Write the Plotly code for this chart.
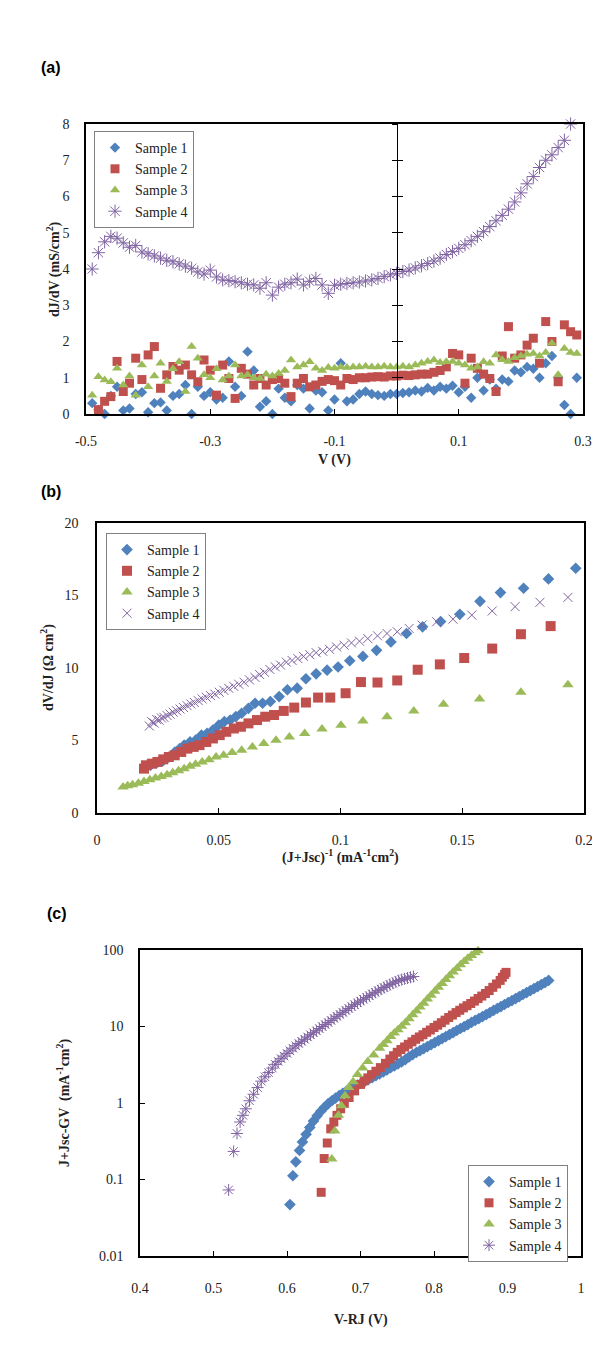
import plotly.graph_objects as go

# ---------------- data : panel (a) ----------------
V_A = [-0.49, -0.48, -0.47, -0.46, -0.45, -0.44, -0.43, -0.42, -0.41, -0.40,
       -0.39, -0.38, -0.37, -0.36, -0.35, -0.34, -0.33, -0.32, -0.31, -0.30,
       -0.29, -0.28, -0.27, -0.26, -0.25, -0.24, -0.23, -0.22, -0.21, -0.20,
       -0.19, -0.18, -0.17, -0.16, -0.15, -0.14, -0.13, -0.12, -0.11, -0.10,
       -0.09, -0.08, -0.07, -0.06, -0.05, -0.04, -0.03, -0.02, -0.01, 0.00,
       0.01, 0.02, 0.03, 0.04, 0.05, 0.06, 0.07, 0.08, 0.09, 0.10,
       0.11, 0.12, 0.13, 0.14, 0.15, 0.16, 0.17, 0.18, 0.19, 0.20,
       0.21, 0.22, 0.23, 0.24, 0.25, 0.26, 0.27, 0.28, 0.29]
S1_A = [0.3, 0.12, 0.0, 0.5, 0.75, 0.1, 0.15, 0.55, 0.6, 0.05,
        0.3, 0.32, 0.1, 0.5, 0.55, 0.8, 0.0, 0.75, 0.5, 0.6,
        0.4, 0.45, 1.45, 0.75, 0.5, 1.72, 1.2, 0.2, 0.35, 0.0,
        0.7, 0.45, 0.35, 0.8, 0.7, 0.15, 0.65, 0.6, 0.1, 0.4,
        1.4, 0.35, 0.4, 0.55, 0.62, 0.55, 0.52, 0.5, 0.55, 0.55,
        0.58, 0.6, 0.65, 0.62, 0.72, 0.65, 0.75, 0.7, 0.78, 0.6,
        0.75, 0.45, 1.0, 0.65, 0.95, 0.7, 0.95, 0.9, 1.2, 1.15,
        1.3, 1.25, 1.0, 1.4, 1.6, 1.0, 0.25, 0.0, 1.0]
S2_A = [None, 0.12, 0.35, 0.48, 1.45, 0.62, 0.85, 1.54, 0.95, 1.63,
        1.86, 0.71, 1.08, 1.31, 1.21, 1.35, 1.08, 0.89, 1.49, 1.21,
        0.52, 1.35, 0.98, 0.43, 1.26, 1.1, 0.8, 0.98, 0.8, 0.95,
        0.98, 0.85, 0.48, 0.85, 0.98, 0.75, 0.8, 0.9, 0.95, 0.92,
        0.8, 0.98, 0.95, 1.0, 1.0, 1.02, 1.03, 1.02, 1.05, 1.05,
        1.07, 1.06, 1.08, 1.1, 1.1, 1.15, 1.2, 1.3, 1.67, 1.63,
        0.85, 1.54, 1.26, 1.1, 0.98, 0.62, 1.6, 2.41, 1.54, 1.63,
        1.9, 2.09, 1.4, 2.55, 2.0, 0.89, 2.46, 2.27, 2.18]
S3_A = [0.52, 1.03, 0.94, 0.89, 1.26, 0.8, 1.05, 0.52, 1.35, 0.75,
        1.05, 1.4, 0.9, 1.25, 1.44, 0.62, 1.86, 1.54, 1.08, 1.0,
        1.25, 0.94, 1.05, 1.35, 1.05, 1.08, 1.0, 0.98, 1.1, 1.05,
        1.12, 1.2, 1.49, 1.3, 1.35, 1.44, 1.26, 1.2, 1.28, 1.26,
        1.3, 1.28, 1.3, 1.3, 1.32, 1.3, 1.3, 1.32, 1.3, 1.3,
        1.32, 1.3, 1.35, 1.4, 1.45, 1.49, 1.42, 1.44, 1.45, 1.4,
        1.35, 1.26, 1.3, 1.44, 1.4, 1.63, 1.5, 1.45, 1.55, 1.6,
        1.65, 1.67, 1.6, 1.7, 1.95, 1.08, 1.81, 1.7, 1.67]
S4_A = [4.0, 4.45, 4.75, 4.9, 4.85, 4.72, 4.6, 4.65, 4.47, 4.42,
        4.36, 4.3, 4.24, 4.2, 4.14, 4.08, 4.02, 3.92, 3.86, 3.97,
        3.78, 3.7, 3.68, 3.65, 3.62, 3.58, 3.56, 3.47, 3.62, 3.28,
        3.5, 3.58, 3.62, 3.72, 3.56, 3.66, 3.74, 3.56, 3.33, 3.55,
        3.58, 3.6, 3.62, 3.64, 3.67, 3.7, 3.74, 3.79, 3.84, 3.88,
        3.93, 3.97, 4.03, 4.09, 4.15, 4.22, 4.3, 4.4, 4.48, 4.57,
        4.67, 4.78, 4.9, 5.03, 5.17, 5.33, 5.48, 5.65, 5.85, 6.1,
        6.35, 6.55, 6.8, 7.0, 7.15, 7.35, 7.55, 8.0, None]
TICKS_XA = [-0.5, -0.3, -0.1, 0.1, 0.3]
TICKTEXT_XA = ["-0.5", "-0.3", "-0.1", "0.1", "0.3"]
TICKS_YA = [0, 1, 2, 3, 4, 5, 6, 7, 8]

# ---------------- data : panel (b) ----------------
X_B1 = [0.0220, 0.0245, 0.0270, 0.0295, 0.0320, 0.0340, 0.0358, 0.0382, 0.0405, 0.0429,
        0.0452, 0.0476, 0.0500, 0.0523, 0.0547, 0.0570, 0.0594, 0.0622, 0.0649, 0.0680,
        0.0712, 0.0748, 0.0782, 0.0822, 0.0858, 0.0900, 0.0945, 0.0990, 0.1038, 0.1092,
        0.1148, 0.1207, 0.1271, 0.1337, 0.1411, 0.1490, 0.1573, 0.1657, 0.1752, 0.1854, 0.1966]
Y_B1 = [3.3, 3.45, 3.6, 3.85, 4.2, 4.44, 4.68, 4.9, 5.02, 5.37,
        5.49, 5.72, 6.06, 6.3, 6.41, 6.64, 6.88, 7.22, 7.57, 7.57,
        7.69, 8.03, 8.5, 8.61, 9.26, 9.6, 9.85, 10.07, 10.5, 10.8,
        11.22, 11.8, 12.38, 12.84, 13.2, 13.7, 14.6, 15.2, 15.5, 16.14, 16.88]
X_B2 = [0.0193, 0.0201, 0.0225, 0.0248, 0.0272, 0.0295, 0.0319, 0.0346, 0.0371, 0.0397,
        0.0421, 0.0449, 0.0476, 0.0504, 0.0531, 0.0562, 0.0591, 0.0622, 0.0657, 0.0691,
        0.0727, 0.0767, 0.0810, 0.0858, 0.0908, 0.0958, 0.1021, 0.1084, 0.1152, 0.1233,
        0.1317, 0.1408, 0.1508, 0.1623, 0.1741, 0.1863]
Y_B2 = [3.06, 3.29, 3.4, 3.52, 3.7, 3.86, 3.98, 4.21, 4.44, 4.56,
        4.68, 4.9, 5.14, 5.37, 5.6, 5.83, 5.95, 6.18, 6.41, 6.64,
        6.76, 7.04, 7.27, 7.62, 7.96, 7.96, 8.26, 9.03, 9.0, 9.14,
        9.88, 10.25, 10.69, 11.34, 12.33, 12.89]
X_B3 = [0.0107, 0.0126, 0.0146, 0.0170, 0.0193, 0.0217, 0.0240, 0.0264, 0.0288, 0.0311,
        0.0335, 0.0358, 0.0382, 0.0405, 0.0432, 0.0460, 0.0489, 0.0520, 0.0555, 0.0594,
        0.0638, 0.0685, 0.0735, 0.0790, 0.0853, 0.0924, 0.1002, 0.1092, 0.1191, 0.1301,
        0.1423, 0.1571, 0.1741, 0.1934]
Y_B3 = [1.8, 1.88, 1.94, 2.06, 2.18, 2.29, 2.41, 2.52, 2.64, 2.78,
        2.92, 3.06, 3.22, 3.36, 3.52, 3.68, 3.86, 3.98, 4.17, 4.33,
        4.56, 4.79, 5.02, 5.25, 5.49, 5.79, 6.06, 6.34, 6.64, 7.04,
        7.5, 7.87, 8.33, 8.84]
X_B4 = [0.0215, 0.0225, 0.0235, 0.0245, 0.0255, 0.0265, 0.0275, 0.0288, 0.0300, 0.0313,
        0.0327, 0.0341, 0.0355, 0.0370, 0.0385, 0.0400, 0.0416, 0.0432, 0.0449, 0.0466,
        0.0484, 0.0502, 0.0521, 0.0541, 0.0561, 0.0582, 0.0604, 0.0626, 0.0649, 0.0668,
        0.0688, 0.0710, 0.0732, 0.0754, 0.0778, 0.0801, 0.0825, 0.0848, 0.0874, 0.0900,
        0.0927, 0.0955, 0.0984, 0.1015, 0.1045, 0.1078, 0.1112, 0.1152, 0.1191, 0.1233,
        0.1282, 0.1335, 0.1395, 0.1462, 0.1539, 0.1623, 0.1717, 0.1819, 0.1934]
Y_B4 = [6.0, 6.3, 6.2, 6.45, 6.4, 6.55, 6.6, 6.72, 6.82, 6.95,
        7.05, 7.17, 7.28, 7.4, 7.52, 7.62, 7.75, 7.86, 7.98, 8.1,
        8.2, 8.33, 8.46, 8.6, 8.74, 8.88, 9.02, 9.18, 9.35, 9.55,
        9.7, 9.9, 10.08, 10.2, 10.4, 10.52, 10.65, 10.8, 10.92, 11.06,
        11.15, 11.29, 11.45, 11.57, 11.73, 11.85, 12.03, 12.22, 12.38, 12.5,
        12.73, 12.96, 13.19, 13.37, 13.65, 13.93, 14.23, 14.53, 14.87]

# ---------------- data : panel (c) ----------------
X_C1 = [0.604, 0.608, 0.612, 0.617, 0.621, 0.626, 0.631, 0.636, 0.641, 0.646,
        0.651, 0.656, 0.661, 0.666, 0.671, 0.676, 0.681, 0.686, 0.691, 0.696,
        0.701, 0.706, 0.711, 0.716, 0.721, 0.726, 0.731, 0.736, 0.741, 0.746,
        0.751, 0.756, 0.761, 0.766, 0.771, 0.776, 0.781, 0.786, 0.791, 0.796,
        0.801, 0.806, 0.811, 0.816, 0.821, 0.826, 0.831, 0.836, 0.841, 0.846,
        0.851, 0.856, 0.861, 0.866, 0.871, 0.876, 0.881, 0.886, 0.891, 0.896,
        0.901, 0.906, 0.911, 0.916, 0.921, 0.926, 0.931, 0.936, 0.941, 0.946,
        0.951, 0.956]
Y_C1 = [0.047, 0.112, 0.17, 0.24, 0.31, 0.39, 0.48, 0.58, 0.68, 0.78,
        0.88, 0.98, 1.07, 1.16, 1.25, 1.34, 1.43, 1.52, 1.61, 1.71,
        1.81, 1.92, 2.03, 2.15, 2.28, 2.41, 2.55, 2.7, 2.9, 3.05,
        3.25, 3.45, 3.7, 4.0, 4.3, 4.57, 4.85, 5.15, 5.47, 5.81,
        6.17, 6.55, 6.96, 7.39, 7.85, 8.34, 8.86, 9.41, 9.99, 10.6,
        11.3, 12.0, 12.7, 13.5, 14.3, 15.2, 16.2, 17.2, 18.2, 19.4,
        20.6, 21.8, 23.2, 24.6, 26.2, 27.8, 29.5, 31.3, 33.3, 35.3,
        37.5, 40.0]
X_C2 = [0.6465, 0.6506, 0.6548, 0.6595, 0.6637, 0.668, 0.673, 0.678, 0.6845, 0.692,
        0.700, 0.705, 0.710, 0.715, 0.721, 0.727, 0.734, 0.740, 0.745, 0.750,
        0.755, 0.760, 0.765, 0.770, 0.775, 0.780, 0.785, 0.790, 0.795, 0.800,
        0.805, 0.810, 0.815, 0.820, 0.825, 0.830, 0.835, 0.840, 0.845, 0.850,
        0.855, 0.860, 0.865, 0.870, 0.875, 0.880, 0.885, 0.890, 0.893, 0.896, 0.898]
Y_C2 = [0.068, 0.188, 0.30, 0.46, 0.565, 0.69, 0.84, 0.99, 1.18, 1.44,
        1.75, 1.95, 2.13, 2.35, 2.6, 2.9, 3.3, 3.75, 4.15, 4.6,
        5.0, 5.4, 5.85, 6.3, 6.8, 7.3, 7.8, 8.4, 9.0, 9.7,
        10.4, 11.2, 12.1, 13.1, 14.1, 15.2, 16.3, 17.5, 18.7, 20.0,
        21.5, 23.2, 25.0, 27.0, 29.5, 32.5, 36.0, 40.0, 44.0, 48.0, 51.0]
X_C3 = [0.661, 0.665, 0.670, 0.674, 0.679, 0.684, 0.690, 0.696, 0.703, 0.710,
        0.718, 0.726, 0.731, 0.736, 0.741, 0.746, 0.751, 0.756, 0.761, 0.766,
        0.771, 0.776, 0.781, 0.786, 0.791, 0.796, 0.801, 0.806, 0.811, 0.816,
        0.821, 0.826, 0.831, 0.836, 0.841, 0.846, 0.851, 0.856, 0.860]
Y_C3 = [0.186, 0.43, 0.69, 0.92, 1.24, 1.59, 1.9, 2.35, 2.86, 3.5,
        4.25, 5.2, 5.8, 6.5, 7.4, 8.2, 9.1, 10.1, 11.2, 12.6,
        14.2, 16.0, 18.0, 20.2, 22.8, 25.7, 29.0, 32.5, 36.5, 41.0,
        46.0, 51.5, 57.5, 64.0, 71.0, 78.0, 85.0, 92.0, 98.0]
X_C4 = [0.5206, 0.5274, 0.532, 0.5362, 0.540, 0.544, 0.549, 0.5545, 0.560, 0.565,
        0.570, 0.575, 0.580, 0.584, 0.588, 0.592, 0.596, 0.600, 0.604, 0.608,
        0.612, 0.616, 0.620, 0.624, 0.628, 0.632, 0.636, 0.640, 0.644, 0.648,
        0.652, 0.656, 0.660, 0.664, 0.668, 0.672, 0.676, 0.680, 0.684, 0.688,
        0.692, 0.696, 0.700, 0.704, 0.708, 0.712, 0.716, 0.720, 0.724, 0.728,
        0.732, 0.736, 0.740, 0.744, 0.748, 0.752, 0.756, 0.760, 0.764, 0.768, 0.772]
Y_C4 = [0.073, 0.233, 0.40, 0.565, 0.69, 0.84, 1.07, 1.3, 1.59, 1.93,
        2.2, 2.5, 2.86, 3.2, 3.5, 3.8, 4.1, 4.45, 4.8, 5.2,
        5.6, 6.0, 6.4, 6.8, 7.3, 7.8, 8.3, 8.8, 9.4, 10.0,
        10.6, 11.3, 12.0, 12.8, 13.6, 14.4, 15.3, 16.2, 17.2, 18.2,
        19.3, 20.4, 21.5, 22.7, 24.0, 25.3, 26.6, 28.0, 29.4, 30.8,
        32.3, 33.8, 35.3, 36.8, 38.3, 39.8, 41.0, 42.0, 43.0, 44.0, 45.0]
TICKS_YC = [0.01, 0.1, 1, 10, 100]
TICKTEXT_YC = ["0.01", "0.1", "1", "10", "100"]

NAMES = ["Sample 1", "Sample 2", "Sample 3", "Sample 4"]

# ---------------- styling ----------------
W, H = 600, 1347
BLUE, RED, GREEN, PURPLE = "#4F81BD", "#C0504D", "#9BBB59", "#8064A2"
SERIF, SANS = "Liberation Serif, Times New Roman, serif", "Liberation Sans, Arial, sans-serif"
TXT = "#222222"


def fx(px):
    return px / W


def fy(py):
    return 1 - py / H


# frame pixel boxes (left, right, top, bottom)
BOX_A = (78, 575, 116, 406)
BOX_B = (89, 576, 515, 805)
BOX_C = (132, 573, 942, 1248)

fig = go.Figure()


def add(x, y, name, sym, color, size, xa, ya, leg, open_=False):
    marker = dict(symbol=sym, color=color, size=size)
    marker["line"] = dict(color=color, width=1) if open_ else dict(width=0)
    fig.add_trace(go.Scatter(x=x, y=y, mode="markers", name=name, marker=marker,
                             xaxis=xa, yaxis=ya, legend=leg, cliponaxis=False))


# panel (a)
add(V_A, S1_A, NAMES[0], "diamond", BLUE, 8, "x", "y", "legend")
add(V_A, S2_A, NAMES[1], "square", RED, 9, "x", "y", "legend")
add(V_A, S3_A, NAMES[2], "triangle-up", GREEN, 9, "x", "y", "legend")
add(V_A, S4_A, NAMES[3], "asterisk-open", PURPLE, 11, "x", "y", "legend", True)
# panel (b)
add(X_B1, Y_B1, NAMES[0], "diamond", BLUE, 9, "x2", "y2", "legend2")
add(X_B2, Y_B2, NAMES[1], "square", RED, 10, "x2", "y2", "legend2")
add(X_B3, Y_B3, NAMES[2], "triangle-up", GREEN, 10, "x2", "y2", "legend2")
add(X_B4, Y_B4, NAMES[3], "x-thin-open", PURPLE, 9, "x2", "y2", "legend2", True)
# panel (c)
add(X_C1, Y_C1, NAMES[0], "diamond", BLUE, 9, "x3", "y3", "legend3")
add(X_C2, Y_C2, NAMES[1], "square", RED, 9, "x3", "y3", "legend3")
add(X_C3, Y_C3, NAMES[2], "triangle-up", GREEN, 10, "x3", "y3", "legend3")
add(X_C4, Y_C4, NAMES[3], "asterisk-open", PURPLE, 10, "x3", "y3", "legend3", True)

# dummy traces for the centre axis (V = 0) of panel (a)
for ya in ("y4", "y5"):
    fig.add_trace(go.Scatter(x=[None], y=[None], xaxis="x", yaxis=ya, showlegend=False,
                             hoverinfo="skip", mode="markers"))

tickfont = dict(family=SERIF, size=14, color=TXT)
base = dict(showline=True, mirror=True, linecolor="black", linewidth=1.5, showgrid=False,
            zeroline=False, ticks="inside", ticklen=5, tickcolor="black", tickwidth=1,
            tickfont=tickfont, automargin=False)


def xdom(b):
    return [fx(b[0]), fx(b[1])]


def ydom(b):
    return [fy(b[3]), fy(b[2])]


pos_zero = fx(BOX_A[0]) + (0 - (-0.5)) / 0.8 * (fx(BOX_A[1]) - fx(BOX_A[0]))

legend_common = dict(bgcolor="white", bordercolor="#808080", borderwidth=1, tracegroupgap=0,
                     itemwidth=30, font=dict(family=SERIF, size=14, color=TXT))

fig.update_layout(
    width=W, height=H, margin=dict(l=0, r=0, t=0, b=0),
    paper_bgcolor="white", plot_bgcolor="white",
    xaxis=dict(base, domain=xdom(BOX_A), anchor="y", range=[-0.5, 0.3],
               tickvals=TICKS_XA, ticktext=TICKTEXT_XA, ticklabelstandoff=13),
    yaxis=dict(base, domain=ydom(BOX_A), anchor="x", range=[0, 8], tickvals=TICKS_YA,
               ticks="", ticklabelstandoff=12),
    yaxis4=dict(overlaying="y", anchor="free", position=pos_zero, range=[0, 8],
                tickvals=TICKS_YA, showticklabels=False, showline=True, linecolor="black",
                linewidth=1, ticks="outside", ticklen=5, tickcolor="black", showgrid=False,
                zeroline=False),
    yaxis5=dict(overlaying="y", anchor="free", position=pos_zero, range=[0, 8],
                tickvals=TICKS_YA, showticklabels=False, showline=False,
                ticks="inside", ticklen=5, tickcolor="black", showgrid=False,
                zeroline=False),
    xaxis2=dict(base, domain=xdom(BOX_B), anchor="y2", range=[0, 0.2], dtick=0.05,
                tick0=0, ticklabelstandoff=13),
    yaxis2=dict(base, domain=ydom(BOX_B), anchor="x2", range=[0, 20], dtick=5,
                ticks="", ticklabelstandoff=14),
    xaxis3=dict(base, domain=xdom(BOX_C), anchor="y3", range=[0.4, 1.0], dtick=0.1,
                tick0=0.4, ticklabelstandoff=18),
    yaxis3=dict(base, domain=ydom(BOX_C), anchor="x3", type="log", range=[-2, 2],
                tickvals=TICKS_YC, ticktext=TICKTEXT_YC, ticklabelstandoff=12),
    legend=dict(legend_common, x=fx(86), y=fy(123), xanchor="left", yanchor="top"),
    legend2=dict(legend_common, x=fx(98), y=fy(525), xanchor="left", yanchor="top"),
    legend3=dict(legend_common, x=fx(560), y=fy(1157), xanchor="right", yanchor="top"),
)

title_font = dict(family=SERIF, size=14, color=TXT)
panel_font = dict(family=SANS, size=16, color="black")
ann = [
    dict(text="<b>(a)</b>", x=fx(31), y=fy(60), xanchor="left", font=panel_font),
    dict(text="<b>(b)</b>", x=fx(31), y=fy(483), xanchor="left", font=panel_font),
    dict(text="<b>(c)</b>", x=fx(37), y=fy(905), xanchor="left", font=panel_font),
    dict(text="<b>V (V)</b>", x=fx((BOX_A[0] + BOX_A[1]) / 2), y=fy(452), font=title_font),
    dict(text="<b>dJ/dV (mS/cm<sup>2</sup>)</b>", x=fx(45), y=fy((BOX_A[2] + BOX_A[3]) / 2),
         textangle=-90, font=title_font),
    dict(text="<b>(J+Jsc)<sup>-1</sup> (mA<sup>-1</sup>cm<sup>2</sup>)</b>",
         x=fx((BOX_B[0] + BOX_B[1]) / 2), y=fy(848), font=title_font),
    dict(text="<b>dV/dJ (Ω cm<sup>2</sup>)</b>", x=fx(40), y=fy((BOX_B[2] + BOX_B[3]) / 2),
         textangle=-90, font=title_font),
    dict(text="<b>V-RJ (V)</b>", x=fx((BOX_C[0] + BOX_C[1]) / 2), y=fy(1312), font=title_font),
    dict(text="<b>J+Jsc-GV  (mA<sup>-1</sup>cm<sup>2</sup>)</b>", x=fx(55),
         y=fy((BOX_C[2] + BOX_C[3]) / 2), textangle=-90, font=title_font),
]
for a in ann:
    a.update(xref="paper", yref="paper", showarrow=False)
    a.setdefault("xanchor", "center")
    a.setdefault("yanchor", "middle")
fig.update_layout(annotations=ann)

fig.write_html("out.html")
